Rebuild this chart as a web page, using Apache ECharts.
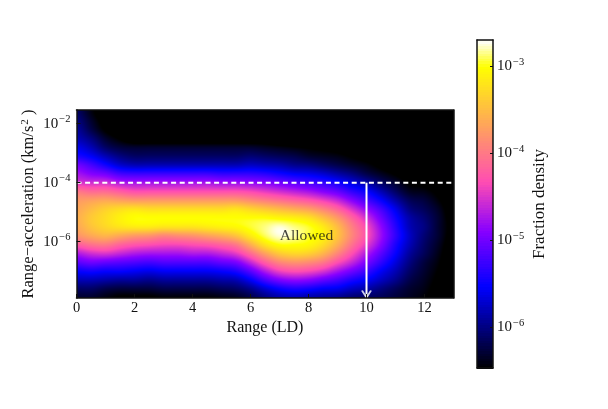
<!DOCTYPE html>
<html>
<head>
<meta charset="utf-8">
<style>
  html, body { margin: 0; background: #fff; }
  #chart { width: 608px; height: 409px; }
</style>
</head>
<body>
<div id="chart"></div>
<script src="https://cdn.jsdelivr.net/npm/echarts@6/dist/echarts.min.js"></script>
<script>
// log10 of range-acceleration for each row of the density table
const accelLog = [-1.6,-1.9,-2.2,-2.5,-2.8,-3.1,-3.4,-3.7,-4.0,-4.3,-4.6,-4.9,-5.2,-5.5,-5.8,-6.1,-6.4,-6.7,-7.0,-7.3,-7.6,-7.9]
// range (LD) for each column
const rangeLD = [0,0.5,1,1.5,2,2.5,3,3.5,4,4.5,5,5.5,6,6.5,7,7.5,8,8.5,9,9.5,10,10.5,11,11.5,12,12.5,13]
// log10 fraction density, one line per range value
const densityLog = [
  [-6.1,-6.0,-5.9,-5.8,-5.6,-5.4,-5.0,-4.75,-4.5,-4.0,-3.75,-3.65,-3.6,-3.65,-3.8,-4.2,-4.7,-5.1,-5.5,-5.8,-6.1,-6.3],
  [-6.4,-6.3,-6.2,-6.0,-5.8,-5.55,-5.2,-4.9,-4.55,-4.1,-3.7,-3.5,-3.4,-3.45,-3.65,-4.05,-4.55,-5.0,-5.45,-5.8,-6.1,-6.3],
  [-6.7,-6.6,-6.5,-6.3,-6.1,-5.8,-5.45,-5.0,-4.55,-4.1,-3.65,-3.35,-3.25,-3.3,-3.55,-4.0,-4.5,-5.05,-5.5,-5.85,-6.2,-6.4],
  [-6.9,-6.8,-6.7,-6.5,-6.25,-6.0,-5.7,-5.2,-4.7,-4.2,-3.7,-3.25,-3.1,-3.2,-3.65,-4.15,-4.6,-5.1,-5.5,-5.9,-6.25,-6.5],
  [-7,-7,-6.9,-6.7,-6.3,-6.1,-5.8,-5.25,-4.75,-4.3,-3.75,-3.2,-3.0,-3.15,-3.75,-4.25,-4.7,-5.15,-5.55,-5.9,-6.25,-6.5],
  [-7,-7,-6.9,-6.7,-6.3,-6.1,-5.8,-5.25,-4.75,-4.3,-3.75,-3.25,-3.0,-3.15,-3.8,-4.3,-4.75,-5.2,-5.6,-5.95,-6.25,-6.5],
  [-7,-7,-6.9,-6.7,-6.3,-6.1,-5.8,-5.25,-4.75,-4.3,-3.75,-3.25,-3.0,-3.2,-3.9,-4.35,-4.75,-5.15,-5.55,-5.9,-6.2,-6.45],
  [-7,-7,-6.9,-6.7,-6.3,-6.1,-5.8,-5.25,-4.75,-4.3,-3.75,-3.25,-3.0,-3.2,-3.85,-4.35,-4.75,-5.15,-5.55,-5.9,-6.2,-6.45],
  [-7,-7,-6.9,-6.7,-6.3,-6.1,-5.8,-5.25,-4.75,-4.3,-3.75,-3.25,-3.0,-3.2,-3.8,-4.3,-4.7,-5.15,-5.55,-5.9,-6.2,-6.45],
  [-7,-7,-6.9,-6.7,-6.3,-6.1,-5.8,-5.25,-4.75,-4.3,-3.75,-3.25,-3.0,-3.15,-3.7,-4.25,-4.7,-5.15,-5.55,-5.9,-6.2,-6.45],
  [-7,-7,-6.9,-6.7,-6.3,-6.1,-5.8,-5.3,-4.8,-4.3,-3.75,-3.25,-3.0,-3.1,-3.6,-4.15,-4.6,-5.05,-5.5,-5.85,-6.15,-6.4],
  [-7,-7,-6.9,-6.7,-6.3,-6.1,-5.8,-5.3,-4.8,-4.3,-3.75,-3.2,-3.0,-3.05,-3.45,-4.0,-4.45,-4.95,-5.4,-5.8,-6.1,-6.35],
  [-7,-7,-6.9,-6.7,-6.3,-6.05,-5.75,-5.3,-4.85,-4.35,-3.85,-3.3,-3.0,-2.95,-3.15,-3.6,-4.1,-4.6,-5.1,-5.55,-5.95,-6.2],
  [-7,-7,-7,-6.7,-6.35,-6.1,-5.8,-5.35,-4.9,-4.45,-3.95,-3.4,-3.0,-2.85,-2.9,-3.2,-3.7,-4.2,-4.7,-5.2,-5.7,-6.0],
  [-7,-7,-7,-6.8,-6.4,-6.15,-5.85,-5.45,-5.0,-4.55,-4.05,-3.5,-3.05,-2.75,-2.75,-3.0,-3.4,-3.9,-4.4,-4.95,-5.5,-5.85],
  [-7,-7,-7,-6.8,-6.45,-6.2,-5.95,-5.55,-5.1,-4.65,-4.15,-3.6,-3.1,-2.85,-2.8,-3.0,-3.3,-3.8,-4.3,-4.85,-5.4,-5.8],
  [-7,-7,-7,-6.8,-6.5,-6.3,-6.0,-5.6,-5.2,-4.75,-4.25,-3.7,-3.2,-2.95,-2.95,-3.05,-3.35,-3.85,-4.35,-4.9,-5.45,-5.85],
  [-7,-7,-7,-6.85,-6.55,-6.35,-6.1,-5.7,-5.3,-4.9,-4.4,-3.9,-3.45,-3.15,-3.1,-3.25,-3.55,-4.0,-4.5,-5.05,-5.55,-5.9],
  [-7,-7,-7,-6.85,-6.6,-6.4,-6.2,-5.85,-5.45,-5.05,-4.6,-4.15,-3.75,-3.5,-3.45,-3.6,-3.9,-4.3,-4.75,-5.2,-5.6,-5.95],
  [-7,-7,-7,-6.9,-6.7,-6.5,-6.3,-6.0,-5.65,-5.3,-4.9,-4.5,-4.15,-3.95,-3.9,-4.05,-4.3,-4.6,-5.0,-5.4,-5.75,-6.05],
  [-7,-7,-7,-6.95,-6.8,-6.6,-6.4,-6.2,-5.85,-5.5,-5.2,-4.85,-4.55,-4.35,-4.3,-4.45,-4.7,-4.95,-5.25,-5.55,-5.85,-6.1],
  [-7,-7,-7,-7,-6.85,-6.7,-6.55,-6.35,-6.1,-5.8,-5.5,-5.2,-5.0,-4.85,-4.8,-4.9,-5.1,-5.3,-5.55,-5.75,-6.0,-6.15],
  [-7,-7,-7,-7,-6.9,-6.8,-6.7,-6.5,-6.3,-6.1,-5.85,-5.6,-5.45,-5.35,-5.3,-5.4,-5.5,-5.65,-5.8,-5.95,-6.15,-6.25],
  [-7,-7,-7,-7,-6.9,-6.85,-6.8,-6.65,-6.5,-6.35,-6.15,-6.0,-5.85,-5.8,-5.75,-5.8,-5.9,-6.0,-6.1,-6.2,-6.3,-6.35],
  [-7,-7,-7,-7,-6.9,-6.85,-6.8,-6.7,-6.55,-6.4,-6.25,-6.15,-6.05,-6.0,-6.05,-6.1,-6.15,-6.25,-6.3,-6.35,-6.4,-6.45],
  [-7,-7,-7,-7,-7,-7,-6.9,-6.8,-6.65,-6.55,-6.45,-6.35,-6.3,-6.3,-6.3,-6.35,-6.4,-6.45,-6.5,-6.55,-6.6,-6.6],
  [-7,-7,-7,-7,-7,-7,-7,-6.95,-6.9,-6.8,-6.7,-6.65,-6.6,-6.55,-6.6,-6.65,-6.7,-6.75,-6.8,-6.85,-6.9,-6.9]
]
const rangeTicks = [0,2,4,6,8,10,12]
const accelTicks = [-2,-4,-6]
const colorTicks = [-3,-4,-5,-6]
const accelLimit = -4
const rangeLimit = 10
const allowedLabel = [7.93, -5.8]
const colorMin = -6.47
const colorMax = -2.7
const accelMin = -7.908
const accelMax = -1.536
const rangeMax = 13

const serif = '"Liberation Serif", "DejaVu Serif", serif'
const plot = { left: 76.5, top: 110, width: 377, height: 188 }
const bar = { left: 477, top: 40, width: 16, height: 328 }

// gnuplot2 colour map
const unit = (v) => Math.min(1, Math.max(0, v))
function cmap(v) {
  const t = unit((v - colorMin) / (colorMax - colorMin))
  const r = unit(t / 0.32 - 0.78125)
  const g = unit(2 * t - 0.84)
  const b = t < 0.25 ? 4 * t : t < 0.92 ? Math.min(1, -2 * t + 1.84) : t / 0.08 - 11.5
  return [r, g, b].map(c => Math.round(c * 255))
}

// cubic weights for the smooth paint between table values
const cubic = (u) => [
  -0.5 * u * u * u + u * u - 0.5 * u,
  1.5 * u * u * u - 2.5 * u * u + 1,
  -1.5 * u * u * u + 2 * u * u + 0.5 * u,
  0.5 * u * u * u - 0.5 * u * u
]
const pick = (n, i) => Math.max(0, Math.min(n - 1, i))

function lookup(x, a) {
  const fx = Math.min(rangeLD.length - 1.001, x / 0.5)
  const i = Math.floor(fx), wx = cubic(fx - i)
  const fy = Math.max(0, Math.min(accelLog.length - 1.001, (accelLog[0] - a) / 0.3))
  const j = Math.floor(fy), wy = cubic(fy - j)
  let sum = 0
  for (let m = 0; m < 4; m++) {
    for (let n = 0; n < 4; n++) {
      sum += wx[m] * wy[n] * densityLog[pick(rangeLD.length, i + m - 1)][pick(accelLog.length, j + n - 1)]
    }
  }
  return sum
}

// the cells share one canvas so they stay smooth like imshow with interpolation
const heatW = 377, heatH = 188
const heatCanvas = document.createElement('canvas')
heatCanvas.width = heatW
heatCanvas.height = heatH
const heatCtx = heatCanvas.getContext('2d')
const pixels = heatCtx.createImageData(heatW, heatH)
for (let py = 0; py < heatH; py++) {
  for (let px = 0; px < heatW; px++) {
    const x = (px + 0.5) / heatW * rangeMax
    const a = accelMax - (py + 0.5) / heatH * (accelMax - accelMin)
    const c = cmap(lookup(x, a))
    const k = (py * heatW + px) * 4
    pixels.data[k] = c[0]; pixels.data[k + 1] = c[1]; pixels.data[k + 2] = c[2]; pixels.data[k + 3] = 255
  }
}
heatCtx.putImageData(pixels, 0, 0)

const cells = []
rangeLD.forEach((x, i) => accelLog.forEach((a, j) => cells.push([x, a, densityLog[i][j]])))

function renderCell(params, api) {
  const x = api.value(0), a = api.value(1)
  const p0 = api.coord([Math.max(0, x - 0.25), Math.min(accelMax, a + 0.15)])
  const p1 = api.coord([Math.min(rangeMax, x + 0.25), Math.max(accelMin, a - 0.15)])
  const sx = Math.round(p0[0] - plot.left), sy = Math.round(p0[1] - plot.top)
  // one pixel of overlap so no seam shows between cells
  const w = Math.min(heatW - sx, Math.round(p1[0] - plot.left) - sx + 1)
  const h = Math.min(heatH - sy, Math.round(p1[1] - plot.top) - sy + 1)
  return {
    type: 'image',
    style: { image: heatCanvas, x: plot.left + sx, y: plot.top + sy, width: w, height: h, sx, sy, sWidth: w, sHeight: h }
  }
}

// colour bar bands, one per level of the colour map
const barLevels = []
for (let i = 0; i < 128; i++) barLevels.push(colorMin + (colorMax - colorMin) * (i + 0.5) / 128)
const barStep = (colorMax - colorMin) / 128

function renderBand(params, api) {
  const v = api.value(1)
  const p0 = api.coord([0, v + barStep / 2])
  const p1 = api.coord([1, v - barStep / 2])
  const y0 = Math.round(p0[1])
  const c = cmap(v)
  return {
    type: 'rect',
    shape: { x: p0[0], y: y0, width: p1[0] - p0[0], height: Math.round(p1[1]) - y0 + 1 },
    style: { fill: `rgb(${c[0]},${c[1]},${c[2]})` }
  }
}

const powerLabel = (v) => `{b|10}{s|\u2212${Math.abs(v)}}`
const powerRich = {
  b: { fontFamily: serif, fontSize: 15, color: '#111' },
  s: { fontFamily: serif, fontSize: 10.5, color: '#111', padding: [0, 0, 8, 1] }
}
const frameLine = { show: true, onZero: false, lineStyle: { color: '#111', width: 1.5 } }

const chart = echarts.init(document.getElementById('chart'))
chart.setOption({
  animation: false,
  backgroundColor: '#fff',
  grid: [
    { ...plot },
    { ...bar }
  ],
  xAxis: [
    {
      gridIndex: 0, type: 'value', min: 0, max: rangeMax, z: 10,
      name: 'Range (LD)', nameLocation: 'middle', nameGap: 22,
      nameTextStyle: { fontFamily: serif, fontSize: 16, color: '#111' },
      axisLine: frameLine,
      axisTick: { inside: true, length: 4, customValues: rangeTicks, lineStyle: { color: '#111' } },
      axisLabel: { customValues: rangeTicks, margin: 3, fontFamily: serif, fontSize: 14.5, color: '#111' },
      splitLine: { show: false }
    },
    { gridIndex: 0, type: 'value', position: 'top', min: 0, max: rangeMax, z: 10, axisLine: frameLine, axisTick: { show: false }, axisLabel: { show: false }, splitLine: { show: false } },
    { gridIndex: 1, type: 'value', min: 0, max: 1, z: 10, axisLine: frameLine, axisTick: { show: false }, axisLabel: { show: false }, splitLine: { show: false } },
    { gridIndex: 1, type: 'value', position: 'top', min: 0, max: 1, z: 10, axisLine: frameLine, axisTick: { show: false }, axisLabel: { show: false }, splitLine: { show: false } }
  ],
  yAxis: [
    {
      gridIndex: 0, type: 'value', min: accelMin, max: accelMax, z: 10,
      name: '{t|Range\u2212acceleration (km/s}{p|2}{t| )}', nameLocation: 'middle', nameGap: 38, nameMoveOverlap: false,
      nameTextStyle: {
        rich: {
          t: { fontFamily: serif, fontSize: 16.5, color: '#111' },
          p: { fontFamily: serif, fontSize: 11, color: '#111', padding: [0, 0, 8, 1] }
        }
      },
      axisLine: frameLine,
      axisTick: { inside: true, length: 4, customValues: accelTicks, lineStyle: { color: '#111' } },
      axisLabel: { customValues: accelTicks, margin: 6, formatter: powerLabel, rich: powerRich },
      splitLine: { show: false }
    },
    { gridIndex: 0, type: 'value', position: 'right', min: accelMin, max: accelMax, z: 10, axisLine: frameLine, axisTick: { show: false }, axisLabel: { show: false }, splitLine: { show: false } },
    { gridIndex: 1, type: 'value', position: 'left', min: colorMin, max: colorMax, z: 10, axisLine: frameLine, axisTick: { show: false }, axisLabel: { show: false }, splitLine: { show: false } },
    {
      gridIndex: 1, type: 'value', position: 'right', min: colorMin, max: colorMax, z: 10,
      name: 'Fraction density', nameLocation: 'middle', nameGap: 38, nameMoveOverlap: false,
      nameTextStyle: { fontFamily: serif, fontSize: 17, color: '#111' },
      axisLine: frameLine,
      axisTick: { inside: true, length: 3, customValues: colorTicks, lineStyle: { color: '#111' } },
      axisLabel: { customValues: colorTicks, margin: 4, formatter: powerLabel, rich: powerRich },
      splitLine: { show: false }
    }
  ],
  series: [
    {
      type: 'custom', xAxisIndex: 0, yAxisIndex: 0, data: cells, renderItem: renderCell,
      encode: { x: 0, y: 1 }, silent: true, clip: true, z: 1
    },
    {
      type: 'line', xAxisIndex: 0, yAxisIndex: 0, data: [[0, accelLimit], [rangeMax, accelLimit]],
      symbol: 'none', silent: true, z: 3,
      lineStyle: { color: '#fff', width: 2, type: [5, 3.6] }
    },
    {
      type: 'line', xAxisIndex: 0, yAxisIndex: 0, data: [[rangeLimit, accelLimit], [rangeLimit, accelMin]],
      symbol: 'none', silent: true, z: 3,
      lineStyle: { color: '#fff', width: 2 }
    },
    {
      // open arrow head at the foot of the range limit
      type: 'scatter', xAxisIndex: 0, yAxisIndex: 0, data: [[rangeLimit, accelMin]],
      symbol: 'path://M0 0L5 7L10 0', symbolSize: [9, 7], symbolOffset: [0, -4], silent: true, z: 4,
      itemStyle: { color: 'none', borderColor: '#fff', borderWidth: 1.8 }
    },
    {
      type: 'scatter', xAxisIndex: 0, yAxisIndex: 0, data: [allowedLabel],
      symbolSize: 1, silent: true, z: 5, itemStyle: { color: 'none' },
      label: { show: true, position: 'inside', formatter: 'Allowed', fontFamily: serif, fontSize: 15.5, color: '#111' }
    },
    {
      type: 'custom', xAxisIndex: 2, yAxisIndex: 2, data: barLevels.map(v => [0.5, v]), renderItem: renderBand,
      encode: { x: 0, y: 1 }, silent: true, z: 1
    }
  ]
})
</script>
</body>
</html>
